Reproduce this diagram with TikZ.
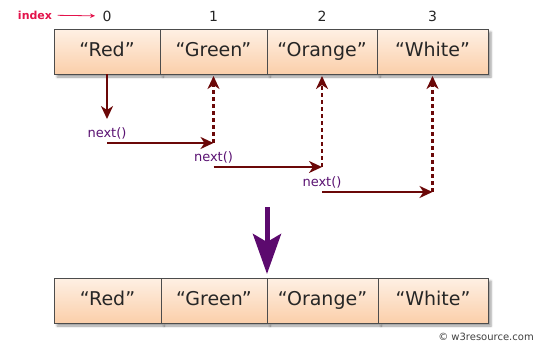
\documentclass[tikz,border=0pt]{standalone}
\usepackage{fontspec}
\setmainfont{DejaVu Sans}
\usetikzlibrary{arrows.meta, positioning, calc, shadows.blur}
\definecolor{peachtop}{HTML}{FEF0E4}
\definecolor{peachbot}{HTML}{FBCFAA}
\definecolor{darkmaroon}{HTML}{6B0808}
\definecolor{callplum}{HTML}{5A1272}
\definecolor{droppurple}{HTML}{5C0A6E}
\definecolor{idxred}{HTML}{E3134B}
\tikzset{
  cell/.style={
    draw=black!70,
    line width=1pt,
    top color=peachtop,
    bottom color=peachbot,
    minimum height=45pt,
    minimum width=#1,
    inner sep=0pt, outer sep=0pt,
    text=black!85,
    text height=14pt, text depth=4pt,
    font=\fontsize{19}{22}\selectfont,
    blur shadow={shadow xshift=3pt, shadow yshift=-3pt, shadow opacity=40}
  },
  cell/.default=108pt,
  arrow/.style={
    -{Stealth[length=13pt,width=12pt,inset=4pt]}, line width=2.2pt, draw=darkmaroon},
  xarrow/.style={arrow, dash pattern=on 4pt off 3pt}
}

\begin{document}
\begin{tikzpicture}[
    x=1pt, y=-1pt,
    node distance=0pt,
    idx/.style={font=\fontsize{14}{16}\selectfont, text=black!85},
    call/.style={font=\fontsize{13}{15}\selectfont, text=callplum, inner sep=1pt},
    bigarrow/.style={-{Stealth[length=40pt,width=28pt,inset=8pt]}, line width=5pt, draw=droppurple}
]
\useasboundingbox (0,0) rectangle (538,346);

% list before the loop
\node[cell=106pt]              (t0) at (107,51.5) {“Red”};
\node[cell=107pt, right=of t0] (t1) {“Green”};
\node[cell=110pt, right=of t1] (t2) {“Orange”};
\node[cell=111pt, right=of t2] (t3) {“White”};

% index numbers
\node[idx] (i0) at (t0 |- 0,16) {0};
\node[idx] (i1) at (t1 |- 0,16) {1};
\node[idx] (i2) at (t2 |- 0,16) {2};
\node[idx] (i3) at (t3 |- 0,16) {3};
\node[font=\bfseries\fontsize{11}{13}\selectfont, text=idxred] (lbl) at (35,15) {index};
\draw[idxred, line width=0.8pt, -{Stealth[length=5pt,width=4.5pt]}, shorten <=2pt, shorten >=4pt] (lbl) -- (i0);

% next() steps
\node[call] (n1) at (t0 |- 0,133) {next()};
\node[call] (n2) at (t1 |- 0,157) {next()};
\node[call] (n3) at (t2 |- 0,182) {next()};

\coordinate (h1) at ($(n1.south)+(0,3)$);
\coordinate (h2) at ($(n2.south)+(0,3)$);
\coordinate (h3) at ($(n3.south)+(0,3)$);

\draw[arrow, shorten >=7pt] (t0) -- (n1);
\draw[arrow] (h1) -- (h1 -| t1);
\draw[xarrow, shorten >=2pt] (h1 -| t1) -- (t1);
\draw[arrow] (h2) -- (h2 -| t2);
\draw[xarrow, shorten >=2pt] (h2 -| t2) -- (t2);
\draw[arrow] (h3) -- (h3 -| t3);
\draw[xarrow, shorten >=2pt] (h3 -| t3) -- (t3);

% list after the loop
\node[cell=107pt]              (b0) at (107.5,300.5) {“Red”};
\node[cell=106pt, right=of b0] (b1) {“Green”};
\node[cell=111pt, right=of b1] (b2) {“Orange”};
\node[cell=110pt, right=of b2] (b3) {“White”};

\coordinate (drop) at (b1.north east |- 0,207);
\draw[bigarrow, shorten >=4pt] (drop) -- (b1.north east);

\node[font=\fontsize{10}{12}\selectfont, text=black!75] (copy) at (486,337) {© w3resource.com};
\end{tikzpicture}
\end{document}
